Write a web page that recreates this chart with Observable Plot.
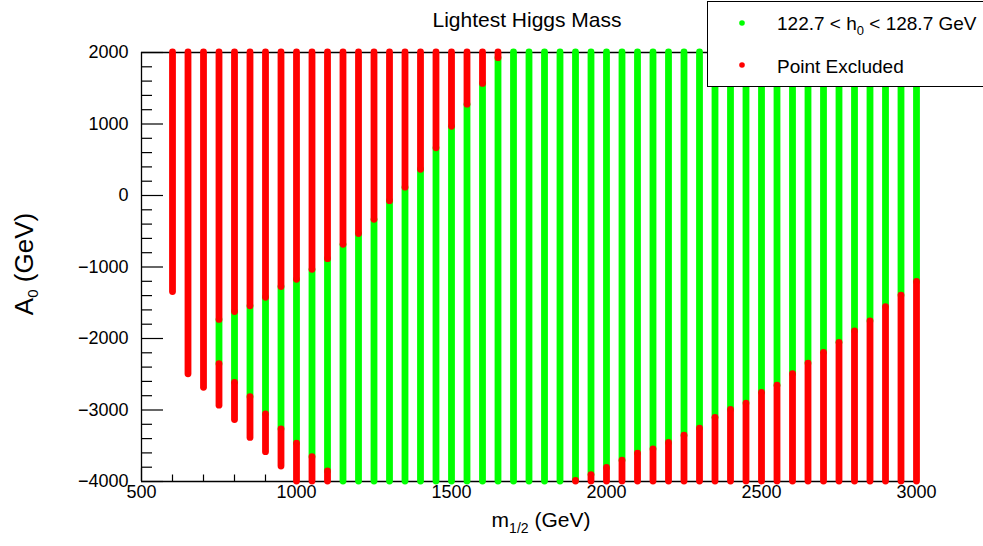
<!DOCTYPE html>
<html>
<head>
<meta charset="utf-8">
<script src="https://cdn.jsdelivr.net/npm/d3@7"></script>
<script src="https://cdn.jsdelivr.net/npm/@observablehq/plot@0.6"></script>
<style>
  html, body { margin: 0; padding: 0; background: #fff; }
</style>
</head>
<body>
<div id="chart"></div>
<script>
// ---- Data ----
const m12 = [600,650,700,750,800,850,900,950,1000,1050,1100,1150,1200,1250,1300,1350,1400,1450,1500,1550,1600,1650,1700,1750,1800,1850,1900,1950,2000,2050,2100,2150,2200,2250,2300,2350,2400,2450,2500,2550,2600,2650,2700,2750,2800,2850,2900,2950,3000];
// lowest scanned A0 of each column
const a0Min = [-1350,-2500,-2690,-2940,-3140,-3390,-3590,-3790,-4000,-4000,-4000,-4000,-4000,-4000,-4000,-4000,-4000,-4000,-4000,-4000,-4000,-4000,-4000,-4000,-4000,-4000,-4000,-4000,-4000,-4000,-4000,-4000,-4000,-4000,-4000,-4000,-4000,-4000,-4000,-4000,-4000,-4000,-4000,-4000,-4000,-4000,-4000,-4000,-4000];
// top of the lower excluded band (null = none)
const redLowTop = [null,null,null,-2360,-2620,-2820,-3060,-3270,-3470,-3660,-3860,null,null,null,null,null,null,null,null,null,null,null,null,null,null,null,-3990,-3910,-3810,-3710,-3610,-3550,-3460,-3360,-3260,-3110,-3000,-2910,-2760,-2660,-2500,-2350,-2200,-2060,-1900,-1760,-1560,-1400,-1210];
// bottom of the upper excluded band, which runs to 2000 (null = none)
const redHighBottom = [-1350,-2500,-2690,-1740,-1630,-1550,-1430,-1280,-1180,-1040,-890,-690,-540,-340,-80,110,360,660,960,1270,1560,1920,null,null,null,null,null,null,null,null,null,null,null,null,null,null,null,null,null,null,null,null,null,null,null,null,null,null,null];
const a0Max = 2000;

const xMajor = [500,1000,1500,2000,2500,3000];
const xMinor = [600,700,800,900,1100,1200,1300,1400,1600,1700,1800,1900,2100,2200,2300,2400,2600,2700,2800,2900];
const yMajor = [-4000,-3000,-2000,-1000,0,1000,2000];
const yMinor = [-3800,-3600,-3400,-3200,-2800,-2600,-2400,-2200,-1800,-1600,-1400,-1200,-800,-600,-400,-200,200,400,600,800,1200,1400,1600,1800];

const titleText = "Lightest Higgs Mass";
const legendGreen = ["122.7 < h", "0", " < 128.7 GeV"];
const legendRed = "Point Excluded";

// ---- Segments ----
const greenSegs = [], redSegs = [];
m12.forEach((m, i) => {
  const lo = redLowTop[i] ?? a0Min[i];
  const hi = redHighBottom[i] ?? a0Max;
  if (hi > lo) greenSegs.push({m, y1: lo, y2: hi});
  if (redLowTop[i] != null) redSegs.push({m, y1: a0Min[i], y2: redLowTop[i]});
  if (redHighBottom[i] != null) redSegs.push({m, y1: redHighBottom[i], y2: a0Max});
});

const W = 983, H = 546;
const mL = 141, mR = 67, mT = 52, mB = 65;
const frameW = W - mL - mR, frameH = H - mT - mB;
const fmt = d => d < 0 ? "\u2212" + Math.abs(d) : String(d);
const FONT = "'Liberation Sans', Arial, Helvetica, sans-serif";

const chart = Plot.plot({
  width: W, height: H,
  marginLeft: mL, marginRight: mR, marginTop: mT, marginBottom: mB,
  x: {domain: [500, 3000]},
  y: {domain: [-4000, 2000]},
  style: {fontFamily: FONT, fontSize: "18px", background: "white", color: "black"},
  marks: [
    // frame lines
    Plot.ruleY([-4000], {stroke: "black", strokeWidth: 1.3}),
    Plot.ruleY([2000], {stroke: "black", strokeWidth: 1.3}),
    Plot.ruleX([500], {stroke: "black", strokeWidth: 1.3}),
    // inward ticks
    Plot.tickY(yMajor, {y: d => d, stroke: "black", strokeWidth: 1.2, insetRight: frameW - 22}),
    Plot.tickY(yMinor, {y: d => d, stroke: "black", strokeWidth: 1.2, insetRight: frameW - 11}),
    Plot.tickX(xMajor, {x: d => d, stroke: "black", strokeWidth: 1.2, insetTop: frameH - 13}),
    Plot.tickX(xMinor, {x: d => d, stroke: "black", strokeWidth: 1.2, insetTop: frameH - 6.5}),
    // scan points
    Plot.ruleX(greenSegs, {x: "m", y1: "y1", y2: "y2", stroke: "#00ff00", strokeWidth: 6.8, strokeLinecap: "round"}),
    Plot.ruleX(redSegs, {x: "m", y1: "y1", y2: "y2", stroke: "#ff0000", strokeWidth: 6.8, strokeLinecap: "round"}),
    // tick labels
    Plot.axisY({ticks: yMajor, tickSize: 0, tickPadding: 13, tickFormat: fmt, label: null, fontSize: 18}),
    Plot.axisX({ticks: xMajor, tickSize: 0, tickPadding: 4, tickFormat: fmt, label: null, fontSize: 18})
  ]
});

const svg = d3.select(chart);
svg.attr("font-family", FONT);

// title
svg.append("text").attr("x", 527).attr("y", 27).attr("text-anchor", "middle")
  .attr("font-size", 21).attr("fill", "black").text(titleText);

// x-axis label
const xl = svg.append("text").attr("x", 541).attr("y", 527).attr("text-anchor", "middle")
  .attr("font-size", 21).attr("fill", "black");
xl.append("tspan").text("m");
xl.append("tspan").attr("font-size", 14).attr("dy", 6).text("1/2");
xl.append("tspan").attr("dy", -6).text(" (GeV)");

// y-axis label
const yl = svg.append("text").attr("transform", "translate(33,264) rotate(-90)")
  .attr("text-anchor", "middle").attr("font-size", 26).attr("fill", "black");
yl.append("tspan").text("A");
yl.append("tspan").attr("font-size", 15).attr("dy", 5).text("0");
yl.append("tspan").attr("dy", -5).text(" (GeV)");

// legend
const lg = svg.append("g");
lg.append("rect").attr("x", 707.5).attr("y", 1.5).attr("width", 300).attr("height", 85)
  .attr("fill", "white").attr("stroke", "black").attr("stroke-width", 1);
lg.append("circle").attr("cx", 742).attr("cy", 23).attr("r", 2.8).attr("fill", "#00ff00");
lg.append("circle").attr("cx", 742).attr("cy", 65).attr("r", 2.8).attr("fill", "#ff0000");
const t1 = lg.append("text").attr("x", 777).attr("y", 30).attr("text-anchor", "start")
  .attr("font-size", 19).attr("fill", "black");
t1.append("tspan").text(legendGreen[0]);
t1.append("tspan").attr("font-size", 13).attr("dy", 5).text(legendGreen[1]);
t1.append("tspan").attr("dy", -5).text(legendGreen[2]);
lg.append("text").attr("x", 777).attr("y", 73).attr("text-anchor", "start")
  .attr("font-size", 19).attr("fill", "black").text(legendRed);

document.getElementById("chart").appendChild(chart);
</script>
</body>
</html>
